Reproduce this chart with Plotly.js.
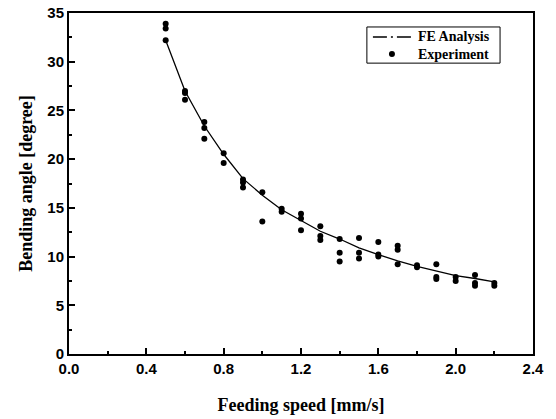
<!DOCTYPE html>
<html>
<head>
<meta charset="utf-8">
<script src="https://cdn.plot.ly/plotly-3.0.1.min.js"></script>
<style>html,body{margin:0;padding:0;background:#fff;}#chart{width:556px;height:419px;}</style>
</head>
<body>
<div id="chart"></div>
<script>
// FE analysis curve
const feSpeed = [0.5, 0.6, 0.7, 0.8, 0.9, 1.0, 1.1, 1.2, 1.3, 1.4, 1.5, 1.6, 1.7, 1.8, 1.9, 2.0, 2.1, 2.2];
const feAngle = [32.2, 27.0, 23.4, 20.5, 18.0, 16.3, 14.8, 13.7, 12.6, 11.8, 10.9, 10.2, 9.55, 9.0, 8.5, 8.05, 7.75, 7.4];

// Experiment points
const expSpeed = [0.5, 0.5, 0.5, 0.6, 0.6, 0.6, 0.7, 0.7, 0.7, 0.8, 0.8, 0.9, 0.9, 0.9,
                  1.0, 1.0, 1.1, 1.1, 1.2, 1.2, 1.2, 1.3, 1.3, 1.3, 1.4, 1.4, 1.4,
                  1.5, 1.5, 1.5, 1.6, 1.6, 1.6, 1.7, 1.7, 1.7, 1.8, 1.8, 1.9, 1.9, 1.9,
                  2.0, 2.0, 2.1, 2.1, 2.1, 2.2, 2.2];
const expAngle = [33.9, 33.4, 32.2, 27.0, 26.8, 26.1, 23.8, 23.2, 22.1, 20.6, 19.6, 17.9, 17.6, 17.1,
                  16.6, 13.6, 14.9, 14.6, 14.4, 13.9, 12.7, 13.1, 12.1, 11.7, 11.8, 10.4, 9.5,
                  11.9, 10.4, 9.8, 11.5, 10.2, 10.0, 11.1, 10.7, 9.2, 9.1, 8.9, 9.2, 7.9, 7.7,
                  7.9, 7.5, 8.1, 7.3, 7.0, 7.3, 7.0];

const xTicks = [0.0, 0.4, 0.8, 1.2, 1.6, 2.0, 2.4];
const yTicks = [0, 5, 10, 15, 20, 25, 30, 35];
const legendNames = ['FE Analysis', 'Experiment'];

const tickFont = {family: 'Liberation Sans, Arial, sans-serif', size: 15, color: '#000', weight: 'bold'};
const titleFont = {family: 'Liberation Serif, Times New Roman, serif', size: 18, color: '#000', weight: 'bold'};
const legFont = {family: 'Liberation Serif, Times New Roman, serif', size: 14, color: '#000', weight: 'bold'};

const traces = [
  {x: feSpeed, y: feAngle, mode: 'lines', name: legendNames[0], line: {color: '#000', width: 1.3}, showlegend: false, hoverinfo: 'skip'},
  {x: expSpeed, y: expAngle, mode: 'markers', name: legendNames[1], marker: {color: '#000', size: 6}, showlegend: false}
];

const axisCommon = {
  showgrid: false, zeroline: false, showline: true, linecolor: '#000', linewidth: 2, mirror: true,
  ticks: 'inside', ticklen: 6, tickwidth: 2, tickcolor: '#000', tickfont: tickFont
};

// manual legend (paper coordinates)
const legBox = {x0: 0.642, x1: 0.929, y0: 0.853, y1: 0.959};
const row1 = 0.9296, row2 = 0.8798, rowMid = 0.906;
const dotX = 0.696, dotRx = 0.0065, dotRy = 0.0088;

const layout = {
  width: 556, height: 419,
  margin: {l: 69, r: 23, t: 13, b: 65},
  paper_bgcolor: '#fff', plot_bgcolor: '#fff',
  showlegend: false,
  xaxis: Object.assign({}, axisCommon, {
    range: [0, 2.4], tickvals: xTicks, tickformat: '.1f',
    minor: {dtick: 0.2, ticks: 'inside', ticklen: 3, tickwidth: 2, tickcolor: '#000'},
    title: {text: 'Feeding speed [mm/s]', font: titleFont, standoff: 22}
  }),
  yaxis: Object.assign({}, axisCommon, {
    range: [0, 35], tickvals: yTicks,
    minor: {dtick: 2.5, ticks: 'inside', ticklen: 3, tickwidth: 2, tickcolor: '#000'},
    title: {text: 'Bending angle [degree]', font: titleFont, standoff: 10}
  }),
  shapes: [
    {type: 'rect', xref: 'paper', yref: 'paper', x0: legBox.x0, x1: legBox.x1, y0: legBox.y0, y1: legBox.y1,
     line: {color: '#000', width: 1}, fillcolor: '#fff'},
    {type: 'line', xref: 'paper', yref: 'paper', x0: 0.655, x1: 0.741, y0: row1, y1: row1,
     line: {color: '#000', width: 1.3, dash: '14px,4px,2px,4px'}},
    {type: 'circle', xref: 'paper', yref: 'paper', x0: dotX - dotRx, x1: dotX + dotRx, y0: row2 - dotRy, y1: row2 + dotRy,
     line: {color: '#000', width: 0}, fillcolor: '#000'}
  ],
  annotations: [
    {xref: 'paper', yref: 'paper', x: 0.748, y: rowMid, xanchor: 'left', yanchor: 'middle', showarrow: false,
     align: 'left', text: legendNames[0] + '<br>' + legendNames[1], font: legFont}
  ]
};

Plotly.newPlot('chart', traces, layout, {staticPlot: true, displayModeBar: false});
</script>
</body>
</html>
